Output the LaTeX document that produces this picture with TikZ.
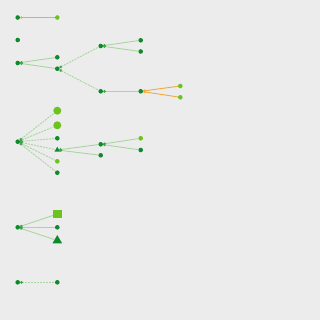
\documentclass[tikz,border=0pt]{standalone}
\usetikzlibrary{arrows.meta,shapes.geometric}
\definecolor{bgc}{HTML}{ECECEC}
\definecolor{dkg}{HTML}{0E8A2B}
\definecolor{ltg}{HTML}{6CC21E}
\definecolor{edg}{HTML}{A9D6A0}
\definecolor{tipg}{HTML}{3EA64A}
\definecolor{org}{HTML}{F4A93A}
\tikzset{
  dk/.style={circle,fill=dkg,inner sep=0pt,minimum size=4.6pt},
  lt/.style={circle,fill=ltg,inner sep=0pt,minimum size=4.6pt},
  bigc/.style={circle,fill=ltg,inner sep=0pt,minimum size=8pt},
  sq/.style={rectangle,fill=ltg,inner sep=0pt,minimum size=8.5pt},
  tri/.style={regular polygon,regular polygon sides=3,fill=dkg,inner sep=0pt,minimum size=#1},
  link/.style={draw=edg,line width=0.9pt,{Circle[length=2.6pt,color=tipg]}-},
  dlink/.style={link,dash pattern=on 2pt off 1pt},
  olink/.style={draw=org,line width=0.9pt,{Circle[length=2.6pt,color=org]}-}
}
\begin{document}
\begin{tikzpicture}[x=1pt,y=-1pt]
\fill[bgc] (0,0) rectangle (320,320);
\useasboundingbox (0,0) rectangle (320,320);
% top group
\node[dk] (a1) at (17.7,17.5) {};
\node[lt] (b1) at (57.3,17.5) {};
\node[dk] (a2) at (17.7,40) {};
\node[dk] (a3) at (17.7,63) {};
\node[dk] (b3) at (57.3,57.3) {};
\node[dk] (b4) at (57.3,68.7) {};
\node[dk] (c1) at (100.7,46) {};
\node[dk] (c2) at (100.7,91.3) {};
\node[dk] (d1) at (140.7,40.3) {};
\node[dk] (d2) at (140.7,51.5) {};
\node[dk] (d3) at (140.7,91.3) {};
\node[lt] (e1) at (180.3,86) {};
\node[lt] (e2) at (180.3,97.3) {};
\draw[olink] (a1) -- (b1);
\draw[link] (a3) -- (b3);
\draw[link] (a3) -- (b4);
\draw[dlink] (b4) -- (c1);
\draw[dlink] (b4) -- (c2);
\draw[link] (c1) -- (d1);
\draw[link] (c1) -- (d2);
\draw[link] (c2) -- (d3);
\draw[olink] (d3) -- (e1);
\draw[olink] (d3) -- (e2);
% middle group
\node[dk] (m0) at (17.7,141.7) {};
\node[bigc] (m1) at (57.3,110.7) {};
\node[bigc] (m2) at (57.3,125.3) {};
\node[dk] (m3) at (57.3,138.3) {};
\node[tri=6.5pt] (m4) at (57.3,150) {};
\node[lt] (m5) at (57.3,161.3) {};
\node[dk] (m6) at (57.3,172.7) {};
\node[dk] (n1) at (100.7,144.3) {};
\node[dk] (n2) at (100.7,155.3) {};
\node[lt] (p1) at (140.7,138.3) {};
\node[dk] (p2) at (140.7,150) {};
\foreach \t in {m1,m2,m3,m4,m5,m6}
  \draw[dlink] (m0) -- (\t);
\draw[link] (m4) -- (n1);
\draw[link] (m4) -- (n2);
\draw[link] (n1) -- (p1);
\draw[link] (n1) -- (p2);
% lower groups
\node[dk] (q0) at (17.7,227.3) {};
\node[sq] (q1) at (57.3,214) {};
\node[dk] (q2) at (57.3,227.3) {};
\node[tri=11pt] (q3) at (57.3,240.5) {};
\draw[link] (q0) -- (q1);
\draw[link] (q0) -- (q2);
\draw[link] (q0) -- (q3);
\node[dk] (r0) at (17.7,282.3) {};
\node[dk] (r1) at (57.3,282.3) {};
\draw[dlink] (r0) -- (r1);
\end{tikzpicture}
\end{document}
